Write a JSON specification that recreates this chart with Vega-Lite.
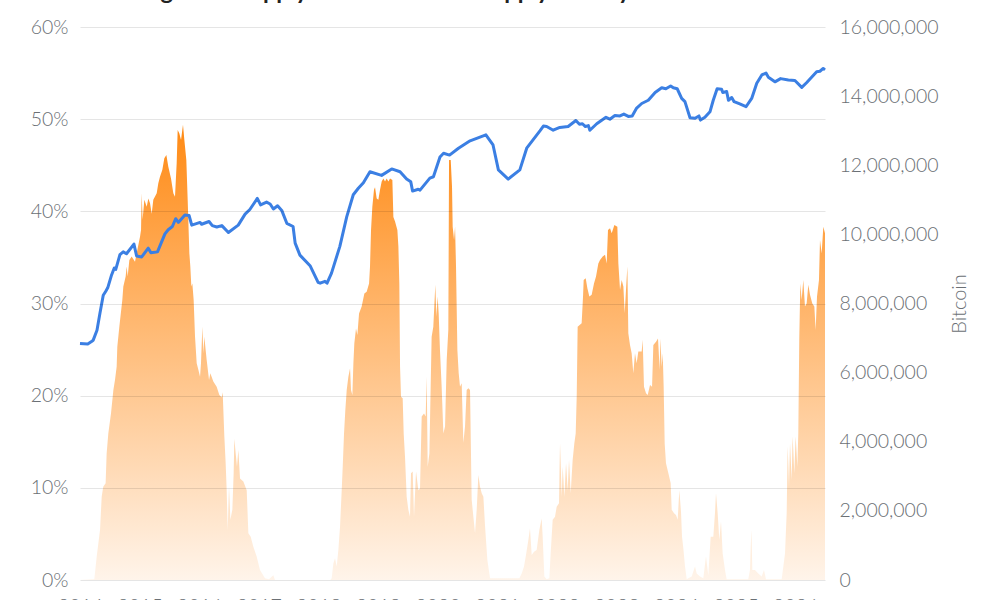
{"$schema":"https://vega.github.io/schema/vega-lite/v6.json","width":745,"height":553,"autosize":"none","padding":{"left":80,"top":27,"right":175,"bottom":20},"background":"white","title":{"text":"Long-term Supply and Short-term Supply held by","anchor":"start","dx":92,"dy":11,"offset":6,"baseline":"alphabetic","font":"Lato","fontSize":23.5,"fontWeight":"bold","color":"#222222"},"config":{"view":{"stroke":null},"axis":{"labelFont":"Lato","labelFontWeight":300,"labelFontSize":19.5,"labelColor":"#6b7075","titleFont":"Lato","titleFontWeight":300,"titleColor":"#6b7075","ticks":false,"domain":false}},"datasets":{"area":[{"year":2014,"bitcoin":0},{"year":2014.24,"bitcoin":0.02},{"year":2014.28,"bitcoin":0.67},{"year":2014.336,"bitcoin":1.45},{"year":2014.364,"bitcoin":2.41},{"year":2014.39,"bitcoin":2.7},{"year":2014.43,"bitcoin":2.8},{"year":2014.447,"bitcoin":3.66},{"year":2014.475,"bitcoin":4.24},{"year":2014.52,"bitcoin":4.82},{"year":2014.56,"bitcoin":5.5},{"year":2014.587,"bitcoin":5.79},{"year":2014.615,"bitcoin":6.17},{"year":2014.626,"bitcoin":6.75},{"year":2014.66,"bitcoin":7.33},{"year":2014.71,"bitcoin":8.1},{"year":2014.727,"bitcoin":8.49},{"year":2014.766,"bitcoin":8.78},{"year":2014.783,"bitcoin":9.07},{"year":2014.8,"bitcoin":8.78},{"year":2014.828,"bitcoin":9.26},{"year":2014.867,"bitcoin":9.36},{"year":2014.923,"bitcoin":9.21},{"year":2014.95,"bitcoin":9.45},{"year":2015.007,"bitcoin":9.93},{"year":2015.024,"bitcoin":10.13},{"year":2015.035,"bitcoin":11.19},{"year":2015.05,"bitcoin":10.42},{"year":2015.08,"bitcoin":11},{"year":2015.119,"bitcoin":10.8},{"year":2015.147,"bitcoin":11.04},{"year":2015.175,"bitcoin":10.9},{"year":2015.203,"bitcoin":10.6},{"year":2015.23,"bitcoin":11},{"year":2015.287,"bitcoin":11.19},{"year":2015.314,"bitcoin":11.48},{"year":2015.342,"bitcoin":11.67},{"year":2015.381,"bitcoin":11.86},{"year":2015.415,"bitcoin":12.2},{"year":2015.449,"bitcoin":12.3},{"year":2015.482,"bitcoin":11.96},{"year":2015.527,"bitcoin":11.62},{"year":2015.566,"bitcoin":11.19},{"year":2015.594,"bitcoin":11.09},{"year":2015.622,"bitcoin":12.06},{"year":2015.639,"bitcoin":13.02},{"year":2015.667,"bitcoin":12.92},{"year":2015.695,"bitcoin":12.73},{"year":2015.728,"bitcoin":13.17},{"year":2015.751,"bitcoin":12.73},{"year":2015.784,"bitcoin":12.15},{"year":2015.807,"bitcoin":10.99},{"year":2015.835,"bitcoin":9.45},{"year":2015.851,"bitcoin":9.07},{"year":2015.868,"bitcoin":8.49},{"year":2015.885,"bitcoin":8.58},{"year":2015.907,"bitcoin":8.1},{"year":2015.93,"bitcoin":7.04},{"year":2015.958,"bitcoin":6.27},{"year":2015.986,"bitcoin":6.08},{"year":2016.014,"bitcoin":5.88},{"year":2016.03,"bitcoin":6.27},{"year":2016.053,"bitcoin":7.33},{"year":2016.07,"bitcoin":6.56},{"year":2016.086,"bitcoin":7.04},{"year":2016.125,"bitcoin":6.37},{"year":2016.165,"bitcoin":5.79},{"year":2016.187,"bitcoin":5.98},{"year":2016.237,"bitcoin":5.74},{"year":2016.293,"bitcoin":5.59},{"year":2016.338,"bitcoin":5.35},{"year":2016.377,"bitcoin":5.29},{"year":2016.394,"bitcoin":5.43},{"year":2016.422,"bitcoin":4.15},{"year":2016.444,"bitcoin":3.38},{"year":2016.461,"bitcoin":2.6},{"year":2016.478,"bitcoin":1.45},{"year":2016.5,"bitcoin":2.7},{"year":2016.523,"bitcoin":1.74},{"year":2016.556,"bitcoin":2.03},{"year":2016.578,"bitcoin":3.09},{"year":2016.59,"bitcoin":4.09},{"year":2016.612,"bitcoin":3.66},{"year":2016.634,"bitcoin":3.28},{"year":2016.657,"bitcoin":3.76},{"year":2016.685,"bitcoin":2.94},{"year":2016.741,"bitcoin":2.85},{"year":2016.797,"bitcoin":2.6},{"year":2016.825,"bitcoin":1.35},{"year":2016.864,"bitcoin":1.25},{"year":2016.908,"bitcoin":0.96},{"year":2016.964,"bitcoin":0.68},{"year":2017.02,"bitcoin":0.29},{"year":2017.104,"bitcoin":0.05},{"year":2017.171,"bitcoin":0.02},{"year":2017.244,"bitcoin":0.14},{"year":2017.272,"bitcoin":0},{"year":2018.2,"bitcoin":0},{"year":2018.223,"bitcoin":0.05},{"year":2018.251,"bitcoin":0.48},{"year":2018.279,"bitcoin":0.63},{"year":2018.307,"bitcoin":0.39},{"year":2018.335,"bitcoin":0.87},{"year":2018.363,"bitcoin":1.54},{"year":2018.391,"bitcoin":2.6},{"year":2018.408,"bitcoin":3.28},{"year":2018.43,"bitcoin":4.24},{"year":2018.452,"bitcoin":4.92},{"year":2018.475,"bitcoin":5.5},{"year":2018.503,"bitcoin":5.88},{"year":2018.531,"bitcoin":6.13},{"year":2018.547,"bitcoin":5.5},{"year":2018.57,"bitcoin":5.35},{"year":2018.587,"bitcoin":6.27},{"year":2018.603,"bitcoin":6.85},{"year":2018.631,"bitcoin":7.28},{"year":2018.654,"bitcoin":7.09},{"year":2018.682,"bitcoin":7.71},{"year":2018.726,"bitcoin":7.91},{"year":2018.771,"bitcoin":8.29},{"year":2018.81,"bitcoin":8.34},{"year":2018.85,"bitcoin":8.58},{"year":2018.866,"bitcoin":9.07},{"year":2018.883,"bitcoin":10.13},{"year":2018.905,"bitcoin":10.8},{"year":2018.933,"bitcoin":11.29},{"year":2018.95,"bitcoin":11.36},{"year":2018.978,"bitcoin":11.04},{"year":2019.006,"bitcoin":11},{"year":2019.034,"bitcoin":11.29},{"year":2019.062,"bitcoin":11.53},{"year":2019.09,"bitcoin":11.62},{"year":2019.118,"bitcoin":11.53},{"year":2019.146,"bitcoin":11.62},{"year":2019.174,"bitcoin":11.53},{"year":2019.202,"bitcoin":11.62},{"year":2019.241,"bitcoin":11.57},{"year":2019.258,"bitcoin":10.5},{"year":2019.286,"bitcoin":10.37},{"year":2019.325,"bitcoin":10.13},{"year":2019.342,"bitcoin":9.65},{"year":2019.358,"bitcoin":8.58},{"year":2019.37,"bitcoin":6.17},{"year":2019.386,"bitcoin":5.3},{"year":2019.414,"bitcoin":5.26},{"year":2019.431,"bitcoin":4.24},{"year":2019.453,"bitcoin":3.57},{"year":2019.481,"bitcoin":2.41},{"year":2019.509,"bitcoin":2.03},{"year":2019.537,"bitcoin":1.83},{"year":2019.554,"bitcoin":3.09},{"year":2019.582,"bitcoin":3.14},{"year":2019.604,"bitcoin":1.83},{"year":2019.638,"bitcoin":3.14},{"year":2019.677,"bitcoin":2.6},{"year":2019.705,"bitcoin":2.65},{"year":2019.733,"bitcoin":4.73},{"year":2019.772,"bitcoin":4.82},{"year":2019.8,"bitcoin":4.73},{"year":2019.817,"bitcoin":5.88},{"year":2019.834,"bitcoin":3.28},{"year":2019.862,"bitcoin":3.66},{"year":2019.9,"bitcoin":7.04},{"year":2019.928,"bitcoin":7.33},{"year":2019.962,"bitcoin":8.54},{"year":2019.979,"bitcoin":7.62},{"year":2020.001,"bitcoin":8.2},{"year":2020.018,"bitcoin":7.71},{"year":2020.04,"bitcoin":6.65},{"year":2020.068,"bitcoin":5.59},{"year":2020.097,"bitcoin":4.24},{"year":2020.125,"bitcoin":4.44},{"year":2020.153,"bitcoin":6.37},{"year":2020.18,"bitcoin":7.24},{"year":2020.192,"bitcoin":12.15},{"year":2020.22,"bitcoin":12.15},{"year":2020.242,"bitcoin":11.38},{"year":2020.253,"bitcoin":10.22},{"year":2020.276,"bitcoin":9.84},{"year":2020.293,"bitcoin":10.22},{"year":2020.309,"bitcoin":9.07},{"year":2020.332,"bitcoin":6.65},{"year":2020.354,"bitcoin":5.98},{"year":2020.376,"bitcoin":5.59},{"year":2020.404,"bitcoin":5.69},{"year":2020.432,"bitcoin":3.97},{"year":2020.46,"bitcoin":4.44},{"year":2020.488,"bitcoin":5.5},{"year":2020.516,"bitcoin":5.55},{"year":2020.544,"bitcoin":5.5},{"year":2020.572,"bitcoin":2.32},{"year":2020.6,"bitcoin":1.83},{"year":2020.628,"bitcoin":1.36},{"year":2020.656,"bitcoin":2.03},{"year":2020.684,"bitcoin":3.04},{"year":2020.712,"bitcoin":2.7},{"year":2020.74,"bitcoin":2.51},{"year":2020.768,"bitcoin":2.41},{"year":2020.796,"bitcoin":1.56},{"year":2020.835,"bitcoin":0.58},{"year":2020.88,"bitcoin":0.05},{"year":2021.372,"bitcoin":0.05},{"year":2021.411,"bitcoin":0.19},{"year":2021.45,"bitcoin":0.39},{"year":2021.483,"bitcoin":0.72},{"year":2021.523,"bitcoin":1.16},{"year":2021.55,"bitcoin":1.49},{"year":2021.579,"bitcoin":0.72},{"year":2021.618,"bitcoin":0.82},{"year":2021.662,"bitcoin":0.87},{"year":2021.707,"bitcoin":1.45},{"year":2021.746,"bitcoin":1.78},{"year":2021.763,"bitcoin":1.25},{"year":2021.791,"bitcoin":0.1},{"year":2021.83,"bitcoin":0.02},{"year":2021.875,"bitcoin":0.05},{"year":2021.897,"bitcoin":0.77},{"year":2021.931,"bitcoin":1.74},{"year":2021.97,"bitcoin":1.83},{"year":2021.998,"bitcoin":2.12},{"year":2022.037,"bitcoin":2.22},{"year":2022.054,"bitcoin":3.95},{"year":2022.082,"bitcoin":2.41},{"year":2022.099,"bitcoin":3.28},{"year":2022.127,"bitcoin":2.41},{"year":2022.155,"bitcoin":3.38},{"year":2022.183,"bitcoin":2.6},{"year":2022.205,"bitcoin":3.47},{"year":2022.233,"bitcoin":2.51},{"year":2022.266,"bitcoin":3.47},{"year":2022.294,"bitcoin":3.95},{"year":2022.317,"bitcoin":4.24},{"year":2022.334,"bitcoin":5.3},{"year":2022.35,"bitcoin":7.33},{"year":2022.417,"bitcoin":7.43},{"year":2022.44,"bitcoin":8.2},{"year":2022.451,"bitcoin":8.68},{"year":2022.485,"bitcoin":8.73},{"year":2022.513,"bitcoin":8.44},{"year":2022.546,"bitcoin":8.2},{"year":2022.585,"bitcoin":8.25},{"year":2022.624,"bitcoin":8.58},{"year":2022.658,"bitcoin":8.78},{"year":2022.697,"bitcoin":9.16},{"year":2022.725,"bitcoin":9.26},{"year":2022.77,"bitcoin":9.36},{"year":2022.809,"bitcoin":9.41},{"year":2022.837,"bitcoin":9.16},{"year":2022.859,"bitcoin":10.13},{"year":2022.893,"bitcoin":10.18},{"year":2022.921,"bitcoin":10.03},{"year":2022.966,"bitcoin":10.27},{"year":2023.016,"bitcoin":10.22},{"year":2023.033,"bitcoin":9.16},{"year":2023.061,"bitcoin":8.39},{"year":2023.089,"bitcoin":8.68},{"year":2023.117,"bitcoin":8.49},{"year":2023.139,"bitcoin":7.72},{"year":2023.161,"bitcoin":8.39},{"year":2023.184,"bitcoin":9.07},{"year":2023.2,"bitcoin":7.14},{"year":2023.228,"bitcoin":6.8},{"year":2023.256,"bitcoin":6.56},{"year":2023.284,"bitcoin":5.98},{"year":2023.312,"bitcoin":6.56},{"year":2023.34,"bitcoin":6.27},{"year":2023.368,"bitcoin":6.61},{"year":2023.424,"bitcoin":6.61},{"year":2023.441,"bitcoin":6.95},{"year":2023.463,"bitcoin":5.59},{"year":2023.497,"bitcoin":5.4},{"year":2023.525,"bitcoin":5.35},{"year":2023.564,"bitcoin":5.64},{"year":2023.598,"bitcoin":5.59},{"year":2023.62,"bitcoin":6.8},{"year":2023.665,"bitcoin":6.89},{"year":2023.698,"bitcoin":6.99},{"year":2023.726,"bitcoin":6.08},{"year":2023.738,"bitcoin":6.99},{"year":2023.76,"bitcoin":6.17},{"year":2023.777,"bitcoin":6.56},{"year":2023.793,"bitcoin":5.59},{"year":2023.81,"bitcoin":3.95},{"year":2023.832,"bitcoin":3.38},{"year":2023.872,"bitcoin":3.09},{"year":2023.911,"bitcoin":2.8},{"year":2023.928,"bitcoin":2.03},{"year":2023.967,"bitcoin":1.93},{"year":2024,"bitcoin":1.88},{"year":2024.028,"bitcoin":1.74},{"year":2024.056,"bitcoin":2.6},{"year":2024.084,"bitcoin":1.97},{"year":2024.101,"bitcoin":1.25},{"year":2024.123,"bitcoin":0.92},{"year":2024.151,"bitcoin":0.39},{"year":2024.18,"bitcoin":0.02},{"year":2024.207,"bitcoin":0.05},{"year":2024.263,"bitcoin":0.1},{"year":2024.319,"bitcoin":0.39},{"year":2024.347,"bitcoin":0.19},{"year":2024.403,"bitcoin":0.1},{"year":2024.458,"bitcoin":0.05},{"year":2024.503,"bitcoin":0.68},{"year":2024.542,"bitcoin":0.14},{"year":2024.582,"bitcoin":1.25},{"year":2024.626,"bitcoin":1.25},{"year":2024.654,"bitcoin":1.93},{"year":2024.671,"bitcoin":2.51},{"year":2024.699,"bitcoin":1.93},{"year":2024.727,"bitcoin":1.16},{"year":2024.755,"bitcoin":1.69},{"year":2024.783,"bitcoin":0.77},{"year":2024.822,"bitcoin":0.29},{"year":2024.85,"bitcoin":0.02},{"year":2025.213,"bitcoin":0.02},{"year":2025.241,"bitcoin":0.29},{"year":2025.264,"bitcoin":1.45},{"year":2025.281,"bitcoin":0.29},{"year":2025.325,"bitcoin":0.29},{"year":2025.381,"bitcoin":0.19},{"year":2025.437,"bitcoin":0.1},{"year":2025.476,"bitcoin":0.29},{"year":2025.51,"bitcoin":0.02},{"year":2025.773,"bitcoin":0.02},{"year":2025.829,"bitcoin":0.77},{"year":2025.857,"bitcoin":1.93},{"year":2025.874,"bitcoin":3.86},{"year":2025.896,"bitcoin":2.7},{"year":2025.913,"bitcoin":3.95},{"year":2025.941,"bitcoin":2.89},{"year":2025.957,"bitcoin":4.15},{"year":2025.985,"bitcoin":3.09},{"year":2026.008,"bitcoin":4.15},{"year":2026.036,"bitcoin":3.28},{"year":2026.052,"bitcoin":4.24},{"year":2026.069,"bitcoin":7.04},{"year":2026.086,"bitcoin":8.58},{"year":2026.108,"bitcoin":8.1},{"year":2026.136,"bitcoin":8.68},{"year":2026.164,"bitcoin":7.91},{"year":2026.192,"bitcoin":8},{"year":2026.22,"bitcoin":8.54},{"year":2026.248,"bitcoin":8.25},{"year":2026.287,"bitcoin":8},{"year":2026.321,"bitcoin":7.91},{"year":2026.343,"bitcoin":7.23},{"year":2026.366,"bitcoin":8.2},{"year":2026.399,"bitcoin":8.68},{"year":2026.416,"bitcoin":9.84},{"year":2026.444,"bitcoin":9.45},{"year":2026.472,"bitcoin":10.22},{"year":2026.5,"bitcoin":10.03}],"line":[{"year":2014,"share":25.66},{"year":2014.13,"share":25.6},{"year":2014.2,"share":25.9},{"year":2014.22,"share":26},{"year":2014.285,"share":27.1},{"year":2014.336,"share":29},{"year":2014.39,"share":30.9},{"year":2014.43,"share":31.3},{"year":2014.465,"share":31.7},{"year":2014.53,"share":33.1},{"year":2014.575,"share":33.85},{"year":2014.6,"share":33.7},{"year":2014.67,"share":35.3},{"year":2014.725,"share":35.6},{"year":2014.78,"share":35.4},{"year":2014.905,"share":36.45},{"year":2014.95,"share":35.15},{"year":2015.035,"share":35.05},{"year":2015.145,"share":36},{"year":2015.19,"share":35.5},{"year":2015.3,"share":35.6},{"year":2015.425,"share":37.55},{"year":2015.48,"share":38},{"year":2015.55,"share":38.35},{"year":2015.605,"share":39.2},{"year":2015.65,"share":38.8},{"year":2015.76,"share":39.6},{"year":2015.83,"share":39.55},{"year":2015.875,"share":38.5},{"year":2016.015,"share":38.8},{"year":2016.04,"share":38.6},{"year":2016.165,"share":38.9},{"year":2016.22,"share":38.45},{"year":2016.295,"share":38.3},{"year":2016.38,"share":38.45},{"year":2016.49,"share":37.7},{"year":2016.655,"share":38.5},{"year":2016.77,"share":39.7},{"year":2016.85,"share":40.2},{"year":2016.975,"share":41.4},{"year":2017.03,"share":40.7},{"year":2017.13,"share":41},{"year":2017.19,"share":40.8},{"year":2017.245,"share":40.25},{"year":2017.315,"share":40.6},{"year":2017.385,"share":40.1},{"year":2017.47,"share":38.7},{"year":2017.575,"share":38.35},{"year":2017.61,"share":36.55},{"year":2017.69,"share":35.25},{"year":2017.86,"share":34.1},{"year":2017.995,"share":32.3},{"year":2018.03,"share":32.2},{"year":2018.11,"share":32.4},{"year":2018.145,"share":32.2},{"year":2018.22,"share":33.3},{"year":2018.36,"share":36.2},{"year":2018.475,"share":39.4},{"year":2018.585,"share":41.8},{"year":2018.67,"share":42.5},{"year":2018.755,"share":43.1},{"year":2018.865,"share":44.3},{"year":2019.06,"share":43.9},{"year":2019.23,"share":44.6},{"year":2019.37,"share":44.3},{"year":2019.48,"share":43.5},{"year":2019.55,"share":43.2},{"year":2019.58,"share":42.2},{"year":2019.675,"share":42.4},{"year":2019.705,"share":42.3},{"year":2019.87,"share":43.6},{"year":2019.93,"share":43.75},{"year":2020.04,"share":45.9},{"year":2020.1,"share":46.3},{"year":2020.2,"share":46.1},{"year":2020.35,"share":46.85},{"year":2020.545,"share":47.65},{"year":2020.81,"share":48.3},{"year":2020.93,"share":47.2},{"year":2021.02,"share":44.5},{"year":2021.185,"share":43.5},{"year":2021.38,"share":44.5},{"year":2021.495,"share":46.85},{"year":2021.72,"share":48.75},{"year":2021.775,"share":49.25},{"year":2021.83,"share":49.2},{"year":2021.94,"share":48.8},{"year":2022.05,"share":49.1},{"year":2022.19,"share":49.2},{"year":2022.32,"share":49.85},{"year":2022.38,"share":49.45},{"year":2022.43,"share":49.5},{"year":2022.48,"share":49.2},{"year":2022.53,"share":49.3},{"year":2022.555,"share":48.8},{"year":2022.67,"share":49.5},{"year":2022.825,"share":50.2},{"year":2022.89,"share":50},{"year":2022.975,"share":50.4},{"year":2023.06,"share":50.35},{"year":2023.125,"share":50.55},{"year":2023.2,"share":50.3},{"year":2023.265,"share":50.35},{"year":2023.34,"share":51.2},{"year":2023.425,"share":51.7},{"year":2023.535,"share":52.05},{"year":2023.65,"share":52.9},{"year":2023.76,"share":53.4},{"year":2023.83,"share":53.3},{"year":2023.91,"share":53.6},{"year":2023.955,"share":53.4},{"year":2024.02,"share":53.3},{"year":2024.095,"share":52.25},{"year":2024.15,"share":51.9},{"year":2024.235,"share":50.15},{"year":2024.32,"share":50.1},{"year":2024.385,"share":50.35},{"year":2024.41,"share":49.9},{"year":2024.485,"share":50.2},{"year":2024.57,"share":50.8},{"year":2024.625,"share":52.05},{"year":2024.69,"share":53.3},{"year":2024.765,"share":53.25},{"year":2024.785,"share":52.9},{"year":2024.85,"share":53},{"year":2024.88,"share":52.05},{"year":2024.935,"share":52.35},{"year":2024.975,"share":51.9},{"year":2025.07,"share":51.65},{"year":2025.175,"share":51.35},{"year":2025.27,"share":52.25},{"year":2025.355,"share":53.9},{"year":2025.44,"share":54.8},{"year":2025.51,"share":55},{"year":2025.55,"share":54.55},{"year":2025.66,"share":54.05},{"year":2025.755,"share":54.4},{"year":2025.885,"share":54.25},{"year":2025.995,"share":54.2},{"year":2026.11,"share":53.45},{"year":2026.19,"share":53.95},{"year":2026.36,"share":55.15},{"year":2026.415,"share":55.2},{"year":2026.47,"share":55.5},{"year":2026.5,"share":55.35}]},"encoding":{"x":{"field":"year","type":"quantitative","scale":{"domain":[2014,2026.5],"nice":false,"zero":false},"axis":{"values":[2014,2015,2016,2017,2018,2019,2020,2021,2022,2023,2024,2025,2026],"format":"d","title":null,"grid":false,"labelPadding":17,"labelFlush":false,"labelOverlap":false}}},"layer":[{"data":{"name":"area"},"mark":{"type":"area","interpolate":"linear","color":{"gradient":"linear","x1":0,"y1":0,"x2":0,"y2":1,"stops":[{"offset":0,"color":"#ff8a14"},{"offset":1,"color":"#fff4ea"}]}},"encoding":{"y":{"field":"bitcoin","type":"quantitative","scale":{"domain":[0,16],"nice":false},"axis":{"orient":"right","title":"Bitcoin","titleFontSize":20,"titleAngle":-90,"titlePadding":31,"values":[0,2,4,6,8,10,12,14,16],"labelExpr":"format(datum.value*1000000,',')","labelPadding":14,"grid":false}}}},{"data":{"name":"line"},"mark":{"type":"line","color":"#3b7fe3","strokeWidth":3,"strokeJoin":"round"},"encoding":{"y":{"field":"share","type":"quantitative","scale":{"domain":[0,60],"nice":false},"axis":{"orient":"left","title":null,"values":[0,10,20,30,40,50,60],"labelExpr":"datum.value+'%'","labelPadding":12,"grid":true,"gridColor":"#000000","gridOpacity":0.1,"zindex":1}}}}],"resolve":{"scale":{"y":"independent"},"axis":{"y":"independent"}}}
